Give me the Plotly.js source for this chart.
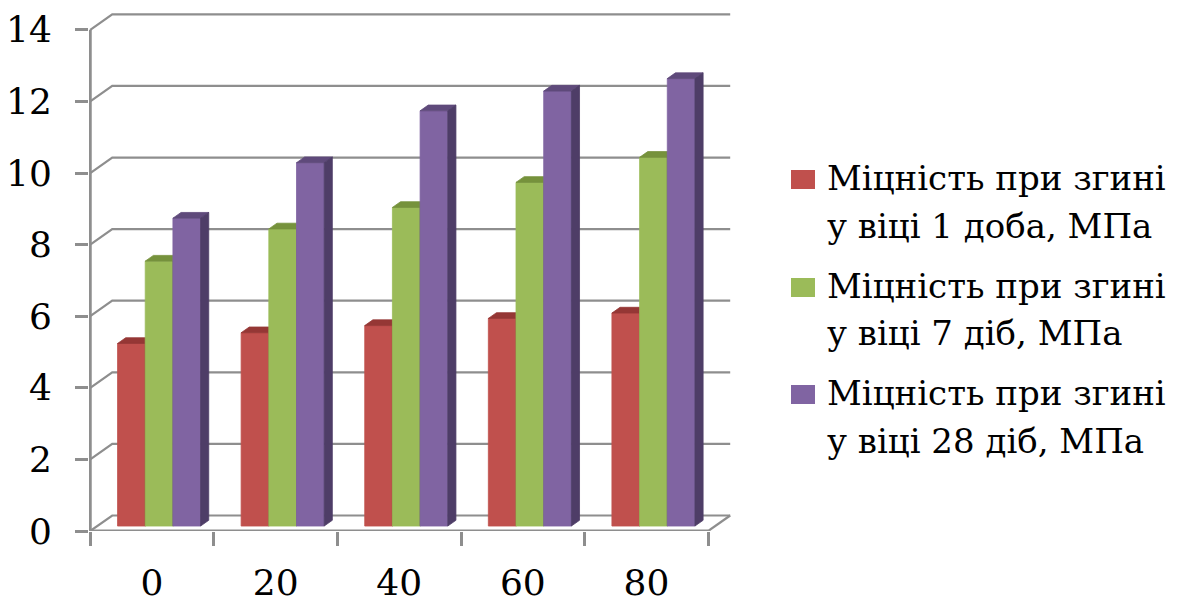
<!DOCTYPE html>
<html>
<head>
<meta charset="utf-8">
<script src="https://cdn.plot.ly/plotly-3.0.1.min.js"></script>
<style>
  html, body { margin: 0; padding: 0; background: #ffffff; }
  #chart { width: 1184px; height: 608px; }
</style>
</head>
<body>
<div id="chart"></div>
<script>
// Flexural strength by additive content, three curing ages
const categories = ['0', '20', '40', '60', '80'];
const strength1Day = [5.1, 5.4, 5.6, 5.8, 5.95];
const strength7Days = [7.4, 8.3, 8.9, 9.6, 10.3];
const strength28Days = [8.6, 10.15, 11.6, 12.15, 12.5];
const yTicks = [0, 2, 4, 6, 8, 10, 12, 14];
const legendLines = [
  ['Міцність при згині', 'у віці 1 доба, МПа'],
  ['Міцність при згині', 'у віці 7 діб, МПа'],
  ['Міцність при згині', 'у віці 28 діб, МПа']
];

const series = [strength1Day, strength7Days, strength28Days];
// front, top, side face colours for each series
const faceColors = [
  ['#C0504D', '#953735', '#8A3331'],
  ['#9BBB59', '#76923C', '#6C8736'],
  ['#8064A2', '#5F4A7B', '#4E3D67']
];

// pseudo-3D box: depth offset of the back wall in axis units
const DEPTH_X = 0.178, DEPTH_Y = 0.433;
const BAR_FRONT = 0.32, BAR_BACK = 0.69, BAR_W = 0.224;
const nCat = categories.length;

function proj(x, y, d) { return [x + d * DEPTH_X, y + d * DEPTH_Y]; }

function polyTrace(polys, color) {
  const xs = [], ys = [];
  polys.forEach(p => {
    p.forEach(pt => { xs.push(pt[0]); ys.push(pt[1]); });
    xs.push(p[0][0]); ys.push(p[0][1]);
    xs.push(null); ys.push(null);
  });
  return {
    type: 'scatter', mode: 'lines', x: xs, y: ys,
    fill: 'toself', fillcolor: color,
    line: { color: color, width: 0.8 },
    hoverinfo: 'skip', showlegend: false
  };
}

const traces = [];

// back wall gridlines with their diagonals to the front axis
const gx = [], gy = [];
yTicks.forEach(t => {
  const a = proj(0, t, 0), b = proj(0, t, 1), c = proj(nCat, t, 1);
  gx.push(a[0], b[0], c[0], null); gy.push(a[1], b[1], c[1], null);
});
{
  const a = proj(nCat, 0, 1), b = proj(nCat, 0, 0);
  gx.push(a[0], b[0], null); gy.push(a[1], b[1], null);
}
traces.push({
  type: 'scatter', mode: 'lines', x: gx, y: gy,
  line: { color: '#8e8e8e', width: 2.2 }, hoverinfo: 'skip', showlegend: false
});

// front axes
traces.push({
  type: 'scatter', mode: 'lines',
  x: [0, 0, null, 0, nCat], y: [yTicks[yTicks.length - 1], 0, null, 0, 0],
  line: { color: '#8e8e8e', width: 3 }, hoverinfo: 'skip', showlegend: false
});

// columns: front face, top face, right side face
series.forEach((vals, s) => {
  const front = [], top = [], side = [];
  vals.forEach((v, i) => {
    const c = i + 0.5;
    const xl = c - 1.5 * BAR_W + s * BAR_W, xr = xl + BAR_W;
    front.push([proj(xl, 0, BAR_FRONT), proj(xr, 0, BAR_FRONT), proj(xr, v, BAR_FRONT), proj(xl, v, BAR_FRONT)]);
    top.push([proj(xl, v, BAR_FRONT), proj(xr, v, BAR_FRONT), proj(xr, v, BAR_BACK), proj(xl, v, BAR_BACK)]);
    side.push([proj(xr, 0, BAR_FRONT), proj(xr, 0, BAR_BACK), proj(xr, v, BAR_BACK), proj(xr, v, BAR_FRONT)]);
  });
  traces.push(polyTrace(front, faceColors[s][0]));
  traces.push(polyTrace(top, faceColors[s][1]));
  traces.push(polyTrace(side, faceColors[s][2]));
});

// layout geometry
const M_L = 89, M_T = 8, M_B = 77, PLOT_W = 681;
const M_R = 1184 - M_L - PLOT_W;
const PLOT_H = 608 - M_T - M_B;
const X_RANGE = [-0.01, 5.5];
const Y_RANGE = [0, 14.61];
const px2x = px => (px - M_L) / PLOT_W;
const py2y = py => (608 - M_B - py) / PLOT_H;

const tickFont = { family: 'DejaVu Serif', size: 36, color: '#000000' };
const legendFont = { family: 'DejaVu Serif', size: 34, color: '#000000' };

// legend built from swatches and text lines
const shapes = [], annotations = [];
const swatchTops = [170, 278, 385];
const lineCenters = [[178, 226], [286, 333], [393, 441]];
legendLines.forEach((lines, s) => {
  shapes.push({
    type: 'rect', xref: 'paper', yref: 'paper',
    x0: px2x(791), x1: px2x(815), y0: py2y(swatchTops[s]), y1: py2y(swatchTops[s] + 19),
    fillcolor: faceColors[s][0], line: { width: 0 }
  });
  lines.forEach((txt, k) => {
    annotations.push({
      xref: 'paper', yref: 'paper', x: px2x(825), y: py2y(lineCenters[s][k]),
      xanchor: 'left', yanchor: 'middle', showarrow: false,
      text: txt, font: legendFont
    });
  });
});

const layout = {
  width: 1184, height: 608,
  margin: { l: M_L, r: M_R, t: M_T, b: M_B, pad: 0 },
  paper_bgcolor: '#ffffff', plot_bgcolor: '#ffffff',
  showlegend: false,
  font: tickFont,
  xaxis: {
    range: X_RANGE, showgrid: false, zeroline: false, showline: false,
    tickmode: 'array', tickvals: categories.map((_, i) => i + 0.5), ticktext: categories,
    ticks: '', ticklabelstandoff: 27, tickfont: tickFont,
    minor: { ticks: 'outside', ticklen: 14, tickwidth: 3, tickcolor: '#8e8e8e', tick0: 0, dtick: 1, showgrid: false }
  },
  yaxis: {
    range: Y_RANGE, showgrid: false, zeroline: false, showline: false,
    tickmode: 'array', tickvals: yTicks, ticktext: yTicks.map(String),
    ticks: 'outside', ticklen: 13, tickwidth: 3, tickcolor: '#8e8e8e',
    ticklabelstandoff: 16, tickfont: tickFont
  },
  shapes: shapes,
  annotations: annotations
};

Plotly.newPlot('chart', traces, layout, { staticPlot: true, displayModeBar: false });
</script>
</body>
</html>
